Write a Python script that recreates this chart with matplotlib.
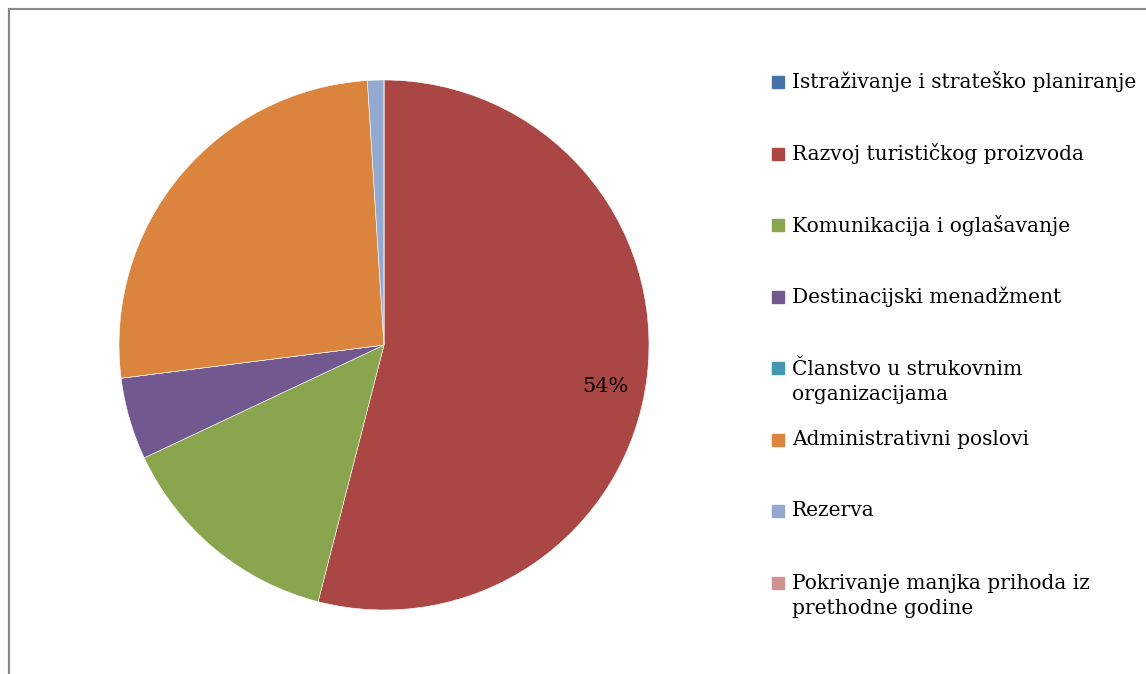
import matplotlib.pyplot as plt
from matplotlib.patches import Rectangle
from matplotlib.lines import Line2D

# data (percent shares)
labels = ['Istraživanje i strateško planiranje',
          'Razvoj turističkog proizvoda',
          'Komunikacija i oglašavanje',
          'Destinacijski menadžment',
          'Članstvo u strukovnim\norganizacijama',
          'Administrativni poslovi',
          'Rezerva',
          'Pokrivanje manjka prihoda iz\nprethodne godine']
values = [0, 54, 14, 5, 0, 26, 1, 0]
colors = ['#4572A7', '#AA4643', '#89A54E', '#71588F',
          '#4198AF', '#DB843D', '#93A9CF', '#D19392']

W, H = 1146, 674
plt.rcParams['font.family'] = ['DejaVu Serif']
fig = plt.figure(figsize=(W / 100, H / 100), dpi=100)

# pie axes: centre (384, 345) px, radius 265 px
cx, cy, r = 384, 345, 265
ax = fig.add_axes([(cx - r) / W, (H - cy - r) / H, 2 * r / W, 2 * r / H])
wedges, texts, autotexts = ax.pie(
    values, colors=colors, startangle=90, counterclock=False, radius=1,
    autopct=lambda p: f'{p:.0f}%' if p > 50 else '',
    pctdistance=0.85, textprops={'fontsize': 15, 'color': 'black'},
    wedgeprops={'edgecolor': 'white', 'linewidth': 0.4})
autotexts[1].set_position((0.834, -0.158))
ax.set_xlim(-1, 1)
ax.set_ylim(-1, 1)
ax.axis('off')

# legend drawn by hand, Excel style
y0, step = 82, 71.5
for i, (lab, col) in enumerate(zip(labels, colors)):
    yc = y0 + i * step
    fig.patches.append(Rectangle((772 / W, 1 - (yc + 6) / H), 12 / W, 12 / H,
                                 transform=fig.transFigure, color=col))
    nlines = lab.count('\n') + 1
    ty = yc + (nlines - 1) * 13.5
    fig.text(792 / W, 1 - ty / H, lab, fontsize=14.5, va='center', ha='left',
             linespacing=1.38)

# outer frame (only top/left visible)
fig.add_artist(Line2D([8.5 / W, 8.5 / W], [0, 1 - 9 / H], color='#888888',
                      lw=1.5, transform=fig.transFigure))
fig.add_artist(Line2D([8.5 / W, 1], [1 - 9 / H, 1 - 9 / H], color='#888888',
                      lw=1.5, transform=fig.transFigure))

fig.savefig('out.png', dpi=100)
